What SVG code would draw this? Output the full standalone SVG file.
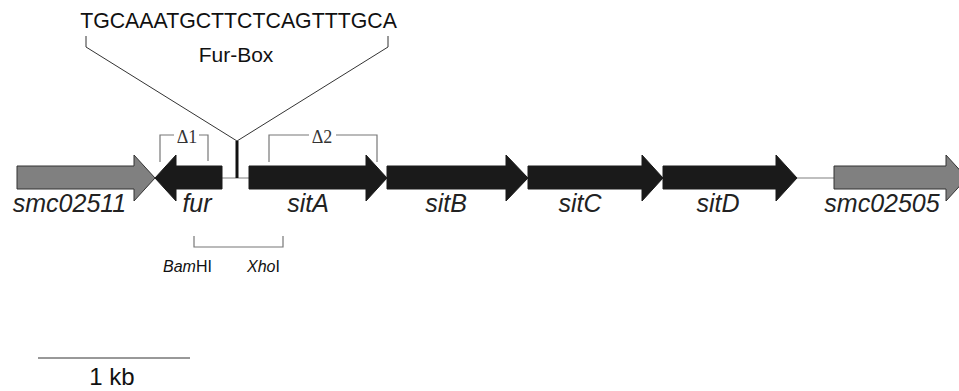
<svg xmlns="http://www.w3.org/2000/svg" width="959" height="391" viewBox="0 0 959 391">
<style>
.gene-gray{fill:#808080;stroke:#333;stroke-width:1}
.gene-black{fill:#1a1a1a;stroke:#1a1a1a;stroke-width:1}
.lbl{font-family:"Liberation Sans",Arial,sans-serif;font-style:italic;font-size:25px;fill:#222;text-anchor:middle}
.sans{font-family:"Liberation Sans",Arial,sans-serif;fill:#111}
.delta{font-family:"Liberation Serif","Times New Roman",serif;font-size:18px;fill:#333;text-anchor:middle}
.brk{fill:none;stroke:#777;stroke-width:1.2}
.thin{fill:none;stroke:#333;stroke-width:1}
.spacer{stroke:#aaa;stroke-width:1.5}
</style>
<rect width="959" height="391" fill="#fff"/>
<g id="connectors">
<line class="spacer" x1="222" y1="178" x2="249" y2="178"/>
<line class="spacer" x1="797" y1="178" x2="834" y2="178"/>
<polyline class="thin" points="86,36 86,47 237,141"/>
<polyline class="thin" points="388,36 388,47 237,141"/>
<line x1="237" y1="141" x2="237" y2="178" stroke="#111" stroke-width="3"/>
</g>
<g id="furbox">
<text class="sans" x="238.5" y="28" font-size="21.3" text-anchor="middle">TGCAAATGCTTCTCAGTTTGCA</text>
<text class="sans" x="236" y="62" font-size="21" text-anchor="middle">Fur-Box</text>
</g>
<g id="smc02511">
<polygon class="gene-gray" points="17,166 134,166 134,155 155,178 134,201 134,189 17,189"/>
<text class="lbl" x="69.5" y="212">smc02511</text>
</g>
<g id="fur">
<polygon class="gene-black" points="155,178 176,155 176,166 222,166 222,189 176,189 176,201"/>
<text class="lbl" x="197" y="212">fur</text>
</g>
<g id="sitA">
<polygon class="gene-black" points="249,166 366,166 366,155 387,178 366,201 366,189 249,189"/>
<text class="lbl" x="308" y="212">sitA</text>
</g>
<g id="sitB">
<polygon class="gene-black" points="387,166 506,166 506,155 528,178 506,201 506,189 387,189"/>
<text class="lbl" x="446" y="212">sitB</text>
</g>
<g id="sitC">
<polygon class="gene-black" points="528,166 642,166 642,155 663,178 642,201 642,189 528,189"/>
<text class="lbl" x="580" y="212">sitC</text>
</g>
<g id="sitD">
<polygon class="gene-black" points="663,166 776,166 776,155 797,178 776,201 776,189 663,189"/>
<text class="lbl" x="718" y="212">sitD</text>
</g>
<g id="smc02505">
<polygon class="gene-gray" points="834,166 946,166 946,155 967,178 946,201 946,189 834,189"/>
<text class="lbl" x="882" y="212">smc02505</text>
</g>
<g id="delta1">
<polyline class="brk" points="160,162 160,135 174,135"/>
<polyline class="brk" points="199,135 208,135 208,161"/>
<text class="delta" x="187" y="143">Δ1</text>
</g>
<g id="delta2">
<polyline class="brk" points="269,162 269,135 309,135"/>
<polyline class="brk" points="336,135 377,135 377,162"/>
<text class="delta" x="322" y="143">Δ2</text>
</g>
<g id="fragment">
<polyline class="brk" points="194,236 194,247 283,247 283,236"/>
<text class="sans" x="163" y="272" font-size="16" fill="#222"><tspan font-style="italic">Bam</tspan>HI</text>
<text class="sans" x="247" y="272" font-size="16" fill="#222"><tspan font-style="italic">Xho</tspan>I</text>
</g>
<g id="scalebar">
<line class="thin" x1="38" y1="358" x2="190" y2="358"/>
<text class="sans" x="112" y="385" font-size="24" text-anchor="middle">1 kb</text>
</g>
</svg>
